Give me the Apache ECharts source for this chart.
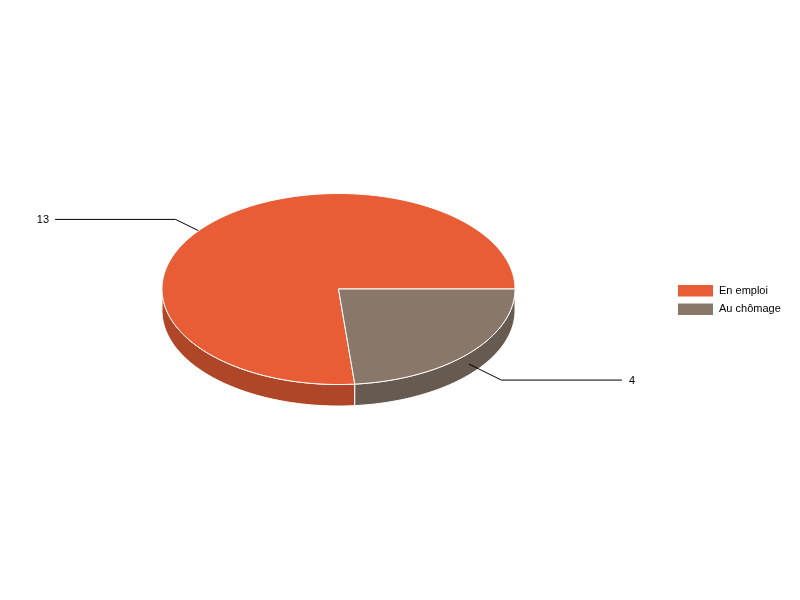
<!DOCTYPE html>
<html>
<head>
<meta charset="utf-8">
<style>html,body{margin:0;padding:0;background:#fff}#c{width:800px;height:600px}</style>
<script src="https://cdn.jsdelivr.net/npm/echarts@6/dist/echarts.min.js"></script>
</head>
<body>
<div id="c"></div>
<script>
var categories = ['En emploi', 'Au chômage'];
var values = [13, 4];
var topColors = ['#E95D36', '#89786A'];
var sideColors = ['#AE4627', '#675A50'];
var cx = 338.5, cy = 289, rx = 176.5, ry = 95.5, depth = 21.5;
var FONT = '11px "Liberation Sans", Arial, sans-serif';
var total = values.reduce(function (a, b) { return a + b; }, 0);

function sliceRange(idx) {
  // the last category begins at 0 and angles accumulate backwards through the list
  var start = 0;
  for (var i = values.length - 1; i > idx; i--) start += values[i] / total * 360;
  return [start, start + values[idx] / total * 360];
}
function pt(deg, dy) {
  var r = deg * Math.PI / 180;
  return [cx + rx * Math.cos(r), cy + ry * Math.sin(r) + (dy || 0)];
}
function renderSlice(params, api) {
  var idx = params.seriesIndex;
  var range = sliceRange(idx);
  var a = range[0], b = range[1], children = [];
  // top face
  var top = [[cx, cy]];
  for (var d = a; d < b; d += 1) top.push(pt(d));
  top.push(pt(b));
  // side wall: only the front half of the ellipse (0..180 degrees)
  var sa = Math.max(a, 0), sb = Math.min(b, 180);
  if (sb > sa) {
    var up = [], down = [];
    for (var s = sa; s < sb; s += 1) { up.push(pt(s)); down.push(pt(s, depth)); }
    up.push(pt(sb)); down.push(pt(sb, depth));
    children.push({
      type: 'polygon', z2: 1,
      shape: { points: up.concat(down.reverse()) },
      style: { fill: sideColors[idx], stroke: '#fff', lineWidth: 1 }
    });
  }
  // leader line and value label
  var mid = (a + b) / 2, start = pt(mid, depth / 2);
  var sign = Math.cos(mid * Math.PI / 180) >= 0 ? 1 : -1;
  var vsign = Math.sin(mid * Math.PI / 180) >= 0 ? 1 : -1;
  var elbow = [start[0] + sign * 32.5, start[1] + vsign * 16];
  var endP = [elbow[0] + sign * 120.5, elbow[1]];
  children.push({
    type: 'polyline', z2: 2,
    shape: { points: [start, elbow, endP] },
    style: { fill: null, stroke: '#000', lineWidth: 1 }
  });
  children.push({
    type: 'text', z2: 2,
    x: endP[0] + (sign > 0 ? 7 : -6), y: endP[1] + 1,
    style: {
      text: String(api.value(0)), font: FONT, fill: '#000',
      align: sign > 0 ? 'left' : 'right', verticalAlign: 'middle'
    }
  });
  children.push({
    type: 'polygon', z2: 3,
    shape: { points: top },
    style: { fill: topColors[idx], stroke: '#fff', lineWidth: 1 }
  });
  return { type: 'group', children: children };
}

var chart = echarts.init(document.getElementById('c'), null, { renderer: 'canvas' });
chart.setOption({
  animation: false,
  backgroundColor: '#fff',
  legend: {
    orient: 'vertical', left: 678, top: 285, padding: 0,
    itemWidth: 35, itemHeight: 11.5, itemGap: 7,
    selectedMode: false, icon: 'rect',
    data: categories,
    textStyle: { color: '#000', fontSize: 11, padding: [3, 0, 0, 1], fontFamily: '"Liberation Sans", Arial, sans-serif' }
  },
  series: categories.map(function (name, i) {
    return {
      type: 'custom', name: name, coordinateSystem: 'none',
      silent: true, clip: false,
      itemStyle: { color: topColors[i] },
      data: [[values[i]]],
      renderItem: renderSlice
    };
  })
});
</script>
</body>
</html>
